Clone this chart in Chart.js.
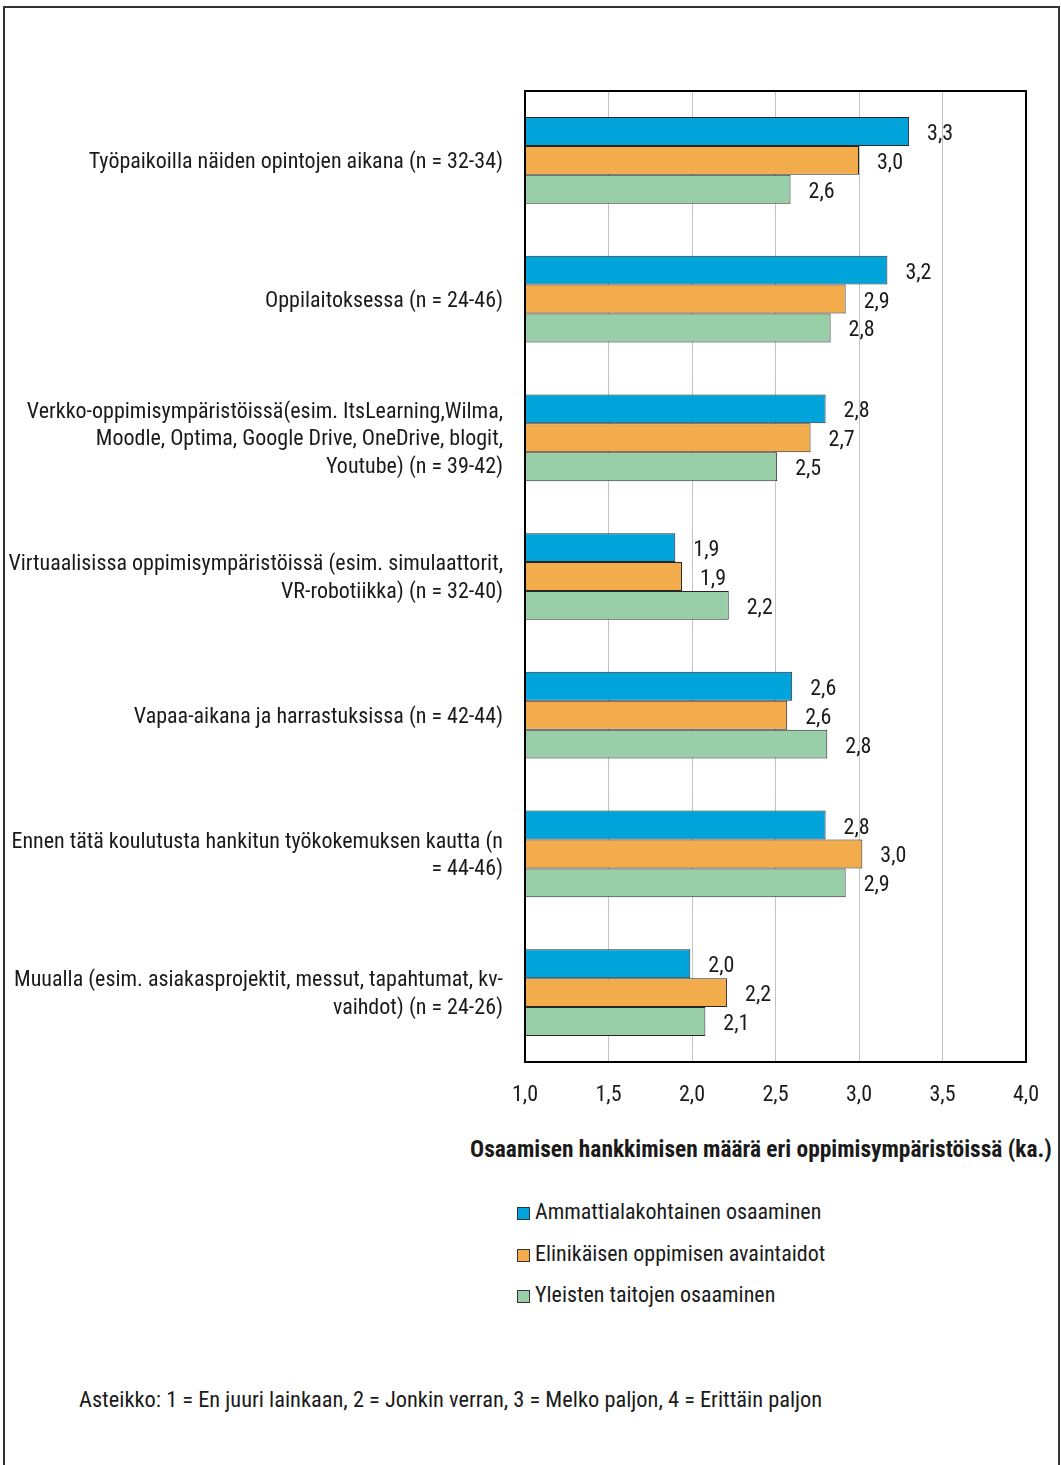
<!DOCTYPE html>
<html lang="fi">
<head>
<meta charset="utf-8">
<script src="https://cdn.jsdelivr.net/npm/chart.js@4.4.1/dist/chart.umd.min.js"></script>
<style>
    body { margin: 0; background: #fff; font-family: 'Liberation Sans Narrow', 'Roboto Condensed', 'DejaVu Sans Condensed', sans-serif; color: #1a1a1a; }
    #page { position: relative; width: 1061px; height: 1465px; overflow: hidden; }
    #frame { position: absolute; left: 3px; top: 6px; width: 1053px; height: 1480px; border: 2px solid #333; }
    #chartBox { position: absolute; left: 0; top: 0; }
    #axisTitle { position: absolute; top: 1135px; left: 461px; width: 600px; text-align: center; font-weight: bold; font-size: 23.4px; white-space: nowrap; }
    #legend { position: absolute; left: 517px; top: 1199px; font-size: 22px; }
    .item { height: 41.5px; display: flex; align-items: flex-start; white-space: nowrap; }
    .box { width: 11px; height: 11px; border: 1px solid #333; margin-right: 5px; margin-top: 8px; }
    #note { position: absolute; left: 79px; top: 1386px; font-size: 22.4px; white-space: nowrap; }
</style>
</head>
<body>
<div id="page">
    <div id="frame"></div>
    <canvas id="chartBox" width="1061" height="1120"></canvas>
    <div id="axisTitle">Osaamisen hankkimisen määrä eri oppimisympäristöissä (ka.)</div>
    <div id="legend"></div>
    <div id="note">Asteikko: 1 = En juuri lainkaan, 2 = Jonkin verran, 3 = Melko paljon, 4 = Erittäin paljon</div>
</div>
<script>
// Kategoriat (oppimisympäristöt)
const categories = [
    'Työpaikoilla näiden opintojen aikana (n = 32-34)',
    'Oppilaitoksessa (n = 24-46)',
    ['Verkko-oppimisympäristöissä(esim. ItsLearning,Wilma,', 'Moodle, Optima, Google Drive, OneDrive, blogit,', 'Youtube) (n = 39-42)'],
    ['Virtuaalisissa oppimisympäristöissä (esim. simulaattorit,', 'VR-robotiikka) (n = 32-40)'],
    'Vapaa-aikana ja harrastuksissa (n = 42-44)',
    ['Ennen tätä koulutusta hankitun työkokemuksen kautta (n', '= 44-46)'],
    ['Muualla (esim. asiakasprojektit, messut, tapahtumat, kv-', 'vaihdot) (n = 24-26)']
];

// Sarjat
const seriesNames = ['Ammattialakohtainen osaaminen', 'Elinikäisen oppimisen avaintaidot', 'Yleisten taitojen osaaminen'];
const ammattiala = [3.30, 3.17, 2.80, 1.90, 2.60, 2.80, 1.99];
const avaintaidot = [3.00, 2.92, 2.71, 1.94, 2.57, 3.02, 2.21];
const yleiset = [2.59, 2.83, 2.51, 2.22, 2.81, 2.92, 2.08];
const seriesColors = ['#00a3da', '#f2ac4c', '#98cfa8'];

// Akselin asteikko
const xMin = 1.0;
const xMax = 4.0;
const xStep = 0.5;

const FONT = "'Liberation Sans Narrow', 'Roboto Condensed', 'DejaVu Sans Condensed', sans-serif";

function fmt(v) {
    return v.toFixed(1).replace('.', ',');
}

// Arvot palkkien perään
const valueLabels = {
    id: 'valueLabels',
    afterDatasetsDraw(chart) {
        const ctx = chart.ctx;
        ctx.save();
        ctx.font = '22px ' + FONT;
        ctx.fillStyle = '#1a1a1a';
        ctx.textAlign = 'left';
        ctx.textBaseline = 'middle';
        chart.data.datasets.forEach((ds, i) => {
            chart.getDatasetMeta(i).data.forEach((bar, j) => {
                ctx.fillText(fmt(ds.data[j]), bar.x + 18, bar.y + 3);
            });
        });
        ctx.restore();
    }
};

// Kehys kuvaajan ympärille
const plotFrame = {
    id: 'plotFrame',
    afterDraw(chart) {
        const a = chart.chartArea;
        const ctx = chart.ctx;
        ctx.save();
        ctx.strokeStyle = '#000';
        ctx.lineWidth = 2;
        ctx.strokeRect(a.left, a.top, a.right - a.left, a.bottom - a.top);
        ctx.restore();
    }
};

const datasets = [ammattiala, avaintaidot, yleiset].map((data, i) => ({
    label: seriesNames[i],
    data: data,
    backgroundColor: seriesColors[i],
    borderColor: '#262626',
    borderWidth: 1,
    borderSkipped: false,
    barPercentage: 1.0,
    categoryPercentage: 0.625
}));

new Chart(document.getElementById('chartBox'), {
    type: 'bar',
    data: { labels: categories, datasets: datasets },
    options: {
        indexAxis: 'y',
        responsive: false,
        animation: false,
        devicePixelRatio: 1,
        layout: { padding: { top: 91, right: 35, left: 0, bottom: 0 } },
        plugins: {
            legend: { display: false },
            tooltip: { enabled: false }
        },
        scales: {
            x: {
                min: xMin,
                max: xMax,
                afterFit: function(scale) { scale.height = 58; },
                ticks: {
                    stepSize: xStep,
                    padding: 20,
                    color: '#1a1a1a',
                    font: { family: FONT, size: 22 },
                    callback: function(value) { return fmt(value); }
                },
                grid: { color: '#c4c4c4', lineWidth: 1, drawTicks: false },
                border: { display: false }
            },
            y: {
                afterFit: function(scale) { scale.width = 525; },
                ticks: {
                    padding: 22,
                    labelOffset: 2,
                    color: '#1a1a1a',
                    font: { family: FONT, size: 22, lineHeight: 1.25 }
                },
                grid: { display: false, drawTicks: false },
                border: { display: false }
            }
        }
    },
    plugins: [valueLabels, plotFrame]
});

// Selite
const legendEl = document.getElementById('legend');
seriesNames.forEach((name, i) => {
    const item = document.createElement('div');
    item.className = 'item';
    item.innerHTML = '<span class="box" style="background:' + seriesColors[i] + '"></span><span>' + name + '</span>';
    legendEl.appendChild(item);
});
</script>
</body>
</html>
